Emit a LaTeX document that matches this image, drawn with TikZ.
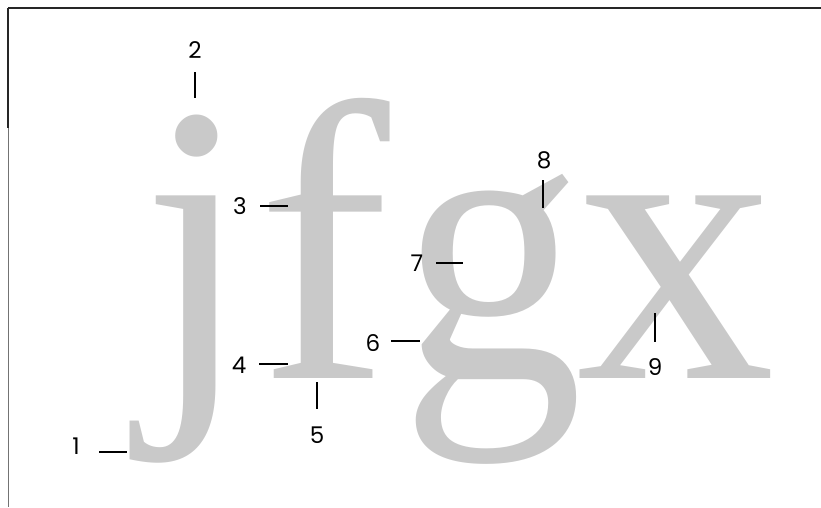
\documentclass[tikz,border=0pt]{standalone}
\usepackage{fontspec}
\setmainfont{Liberation Serif}
\newfontfamily\lblfont{Poppins}
\definecolor{glyph}{gray}{0.79}
\definecolor{frameline}{gray}{0.45}
\begin{document}
\begin{tikzpicture}[x=1pt,y=-1pt,
  glyphstyle/.style={inner sep=0pt, anchor=base, text=glyph, font=\fontsize{398}{400}\selectfont},
  lbl/.style={inner sep=0pt, font=\lblfont\fontsize{23}{25}\selectfont},
  leader/.style={line width=1.2pt, black}]
\useasboundingbox (0,0) rectangle (821,507);
% frame
\coordinate (tl) at (8,8);
\coordinate (tr) at (821,8);
\coordinate (lm) at (8,128);
\coordinate (bl) at (8,507);
\draw[line width=1.4pt, black!85] (tl) -- (tr);
\draw[line width=1.4pt, black!85] (tl) -- (lm);
\draw[line width=0.9pt, frameline] (lm) -- (bl);
% glyphs
\node[glyphstyle] (gj) at (197,378) {j};
\node[glyphstyle] (gf) at (324,378) {f};
\node[glyphstyle] (gg) at (492,378) {\scalebox{0.92}[1]{g}};
\node[glyphstyle] (gx) at (676,378) {x};
% labels
\node[lbl] (n1) at (76,446) {1};
\node[lbl] (n2) at (195,50) {2};
\node[lbl] (n3) at (240,206) {3};
\node[lbl] (n4) at (239,365) {4};
\node[lbl] (n5) at (317,435) {5};
\node[lbl] (n6) at (373,343) {6};
\node[lbl] (n7) at (417,263) {7};
\node[lbl] (n8) at (544,160) {8};
\node[lbl] (n9) at (655,367) {9};
% leader end points
\coordinate (a1) at (99,452);  \coordinate (b1) at (127,452);
\coordinate (a2) at (195,72);  \coordinate (b2) at (195,98);
\coordinate (a3) at (260,206); \coordinate (b3) at (288,206);
\coordinate (a4) at (259,364); \coordinate (b4) at (288,364);
\coordinate (a5) at (317,382); \coordinate (b5) at (317,409);
\coordinate (a6) at (391,341); \coordinate (b6) at (420,341);
\coordinate (a7) at (436,263); \coordinate (b7) at (463,263);
\coordinate (a8) at (543,180); \coordinate (b8) at (543,208);
\coordinate (a9) at (655,313); \coordinate (b9) at (655,342);
\foreach \i in {1,...,9} \draw[leader] (a\i) -- (b\i);
\end{tikzpicture}
\end{document}
